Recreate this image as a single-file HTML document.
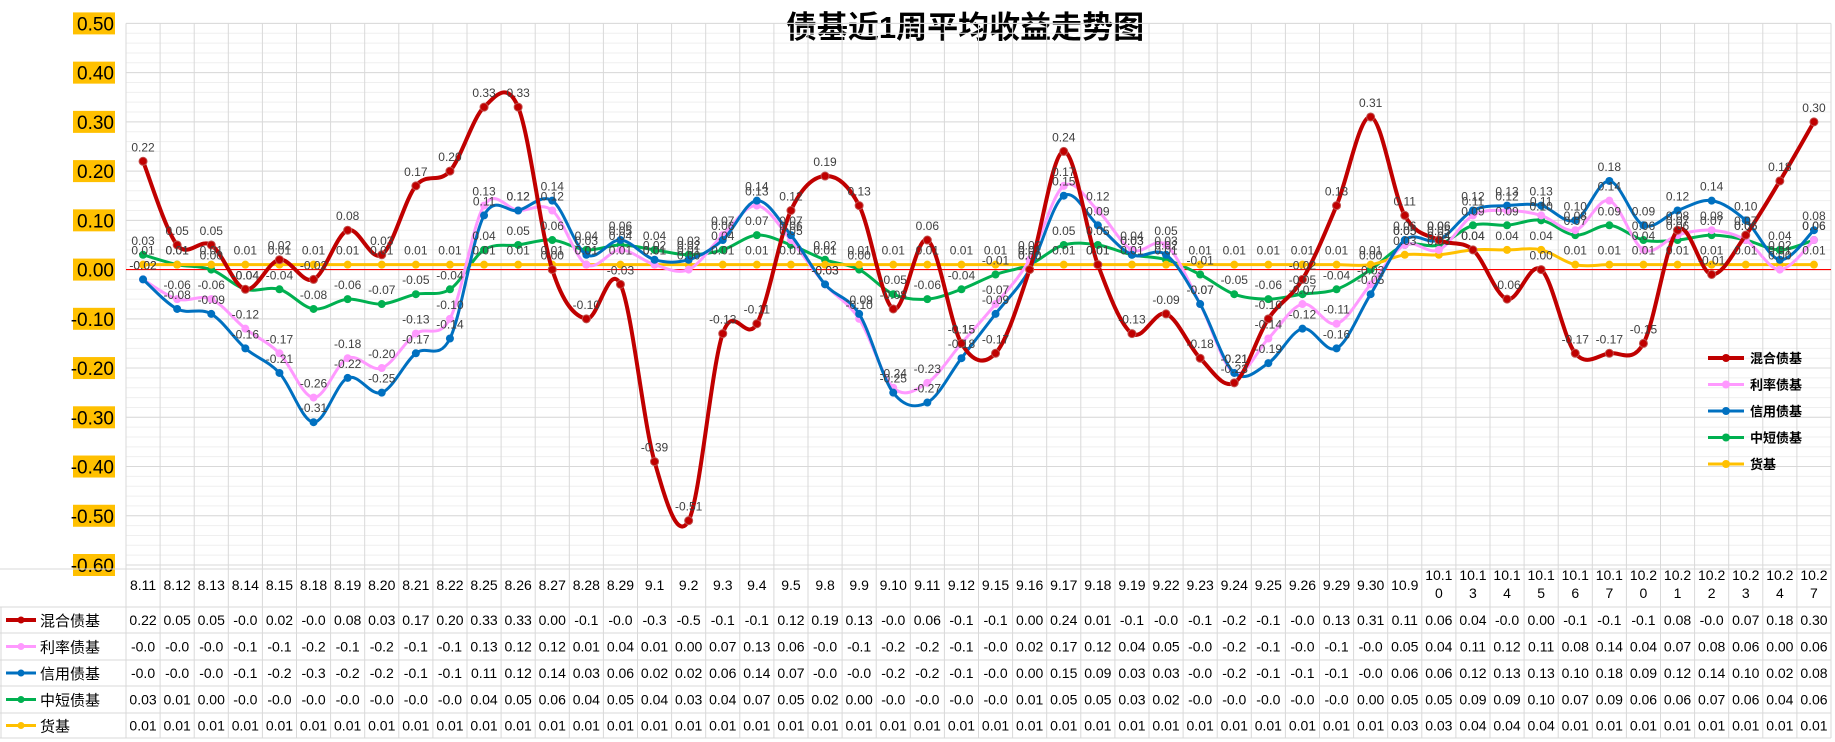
<!DOCTYPE html>
<html><head><meta charset="utf-8"><style>
html,body{margin:0;padding:0;background:#fff;}
svg{display:block;font-family:"Liberation Sans","Noto Sans CJK SC",sans-serif;}
</style></head><body>
<svg id="chart" width="1835" height="742" xmlns="http://www.w3.org/2000/svg">
<text x="965" y="38" text-anchor="middle" font-size="31" font-weight="bold" fill="#000">债基近1周平均收益走势图</text>
<g id="grid"></g><g id="yaxis"></g><g id="series"></g><g id="labels"></g><g id="legend"></g><g id="table"></g>
</svg>
<script>
const categories=["8.11","8.12","8.13","8.14","8.15","8.18","8.19","8.20","8.21","8.22","8.25","8.26","8.27","8.28","8.29","9.1","9.2","9.3","9.4","9.5","9.8","9.9","9.10","9.11","9.12","9.15","9.16","9.17","9.18","9.19","9.22","9.23","9.24","9.25","9.26","9.29","9.30","10.9","10.10","10.13","10.14","10.15","10.16","10.17","10.20","10.21","10.22","10.23","10.24","10.27"];
const seriesNames=["混合债基","利率债基","信用债基","中短债基","货基"];
const mixed=[0.22,0.05,0.05,-0.04,0.02,-0.02,0.08,0.03,0.17,0.20,0.33,0.33,0.00,-0.10,-0.03,-0.39,-0.51,-0.13,-0.11,0.12,0.19,0.13,-0.08,0.06,-0.15,-0.17,0.00,0.24,0.01,-0.13,-0.09,-0.18,-0.23,-0.10,-0.02,0.13,0.31,0.11,0.06,0.04,-0.06,0.00,-0.17,-0.17,-0.15,0.08,-0.01,0.07,0.18,0.30];
const rate=[-0.02,-0.06,-0.06,-0.12,-0.17,-0.26,-0.18,-0.20,-0.13,-0.10,0.13,0.12,0.12,0.01,0.04,0.01,0.00,0.07,0.13,0.06,-0.03,-0.10,-0.24,-0.23,-0.15,-0.07,0.02,0.17,0.12,0.04,0.05,-0.07,-0.21,-0.14,-0.07,-0.11,-0.03,0.05,0.04,0.11,0.12,0.11,0.08,0.14,0.04,0.07,0.08,0.06,0.00,0.06];
const credit=[-0.02,-0.08,-0.09,-0.16,-0.21,-0.31,-0.22,-0.25,-0.17,-0.14,0.11,0.12,0.14,0.03,0.06,0.02,0.02,0.06,0.14,0.07,-0.03,-0.09,-0.25,-0.27,-0.18,-0.09,0.00,0.15,0.09,0.03,0.03,-0.07,-0.21,-0.19,-0.12,-0.16,-0.05,0.06,0.06,0.12,0.13,0.13,0.10,0.18,0.09,0.12,0.14,0.10,0.02,0.08];
const shortTerm=[0.03,0.01,0.00,-0.04,-0.04,-0.08,-0.06,-0.07,-0.05,-0.04,0.04,0.05,0.06,0.04,0.05,0.04,0.03,0.04,0.07,0.05,0.02,0.00,-0.05,-0.06,-0.04,-0.01,0.01,0.05,0.05,0.03,0.02,-0.01,-0.05,-0.06,-0.05,-0.04,0.00,0.05,0.05,0.09,0.09,0.10,0.07,0.09,0.06,0.06,0.07,0.06,0.04,0.06];
const money=[0.01,0.01,0.01,0.01,0.01,0.01,0.01,0.01,0.01,0.01,0.01,0.01,0.01,0.01,0.01,0.01,0.01,0.01,0.01,0.01,0.01,0.01,0.01,0.01,0.01,0.01,0.01,0.01,0.01,0.01,0.01,0.01,0.01,0.01,0.01,0.01,0.01,0.03,0.03,0.04,0.04,0.04,0.01,0.01,0.01,0.01,0.01,0.01,0.01,0.01];
const yTicks=[0.5,0.4,0.3,0.2,0.1,0,-0.1,-0.2,-0.3,-0.4,-0.5,-0.6];

const NS="http://www.w3.org/2000/svg";
const allSeries=[mixed,rate,credit,shortTerm,money];
const colors=["#C00000","#FF99FF","#0070C0","#00B050","#FFC000"];
const widths=[4,3,3,3,3];
const slugs=["mixed-bond","rate-bond","credit-bond","short-term-bond","money-fund"];
const plotLeft=126, colW=34.1, yMax=0.5, yMin=-0.6, plotTop=23.4, plotBottom=565;
function xPos(i){return plotLeft+colW*(i+0.5);}
function yPos(v){return plotTop+(yMax-v)/(yMax-yMin)*(plotBottom-plotTop);}
function mk(tag,attrs,parent){const e=document.createElementNS(NS,tag);for(const k in attrs)e.setAttribute(k,attrs[k]);parent.appendChild(e);return e;}
const grid=document.getElementById('grid');
const rightEdge=plotLeft+colW*categories.length;
for(let v=-0.6;v<=0.5001;v+=0.02){mk('line',{x1:plotLeft,x2:rightEdge,y1:yPos(v),y2:yPos(v),stroke:'#efefef','stroke-width':1},grid);}
yTicks.forEach(t=>{mk('line',{x1:plotLeft,x2:rightEdge,y1:yPos(t),y2:yPos(t),stroke:'#d9d9d9','stroke-width':1},grid);});
for(let i=0;i<=categories.length;i++){mk('line',{x1:plotLeft+colW*i,x2:plotLeft+colW*i,y1:plotTop,y2:738,stroke:'#d9d9d9','stroke-width':1},grid);}
const zl=mk('line',{x1:plotLeft,x2:rightEdge,y1:yPos(0),y2:yPos(0),stroke:'#FF0000','stroke-width':1.2},grid);


const ya=document.getElementById('yaxis');
yTicks.forEach(t=>{
  const g=mk('g',{},ya);
  
  
  mk('rect',{x:73,y:yPos(t)-11,width:42,height:22,fill:'#FFC000'},g);
  const tx=mk('text',{x:114,y:yPos(t)+7,'text-anchor':'end','font-size':19,fill:'#000'},g);
  tx.textContent=t.toFixed(2);
});
function smooth(vals){
  const p=vals.map((v,i)=>[xPos(i),yPos(v)]);
  let d=`M${p[0][0]},${p[0][1]}`;
  for(let i=0;i<p.length-1;i++){
    const p0=p[i-1]||p[i],p1=p[i],p2=p[i+1],p3=p[i+2]||p[i+1];
    const c1=[p1[0]+(p2[0]-p0[0])/6,p1[1]+(p2[1]-p0[1])/6];
    const c2=[p2[0]-(p3[0]-p1[0])/6,p2[1]-(p3[1]-p1[1])/6];
    d+=` C${c1[0]},${c1[1]} ${c2[0]},${c2[1]} ${p2[0]},${p2[1]}`;
  }
  return d;
}
const sg=document.getElementById('series'), lg=document.getElementById('labels');
[3,4,1,2,0].forEach(s=>{
  const vals=allSeries[s];
  const g=mk('g',{},sg);
  
  
  mk('path',{d:smooth(vals),fill:'none',stroke:colors[s],'stroke-width':widths[s]},g);
  vals.forEach((v,i)=>{
    const c=mk('circle',{cx:xPos(i),cy:yPos(v),r:4,fill:colors[s]},g);
    if(s===0)c.setAttribute('stroke','#c0504d');
    
    
    const t=mk('text',{x:xPos(i),y:yPos(v)-10,'text-anchor':'middle','font-size':12,fill:'#404040'},lg);
    t.textContent=v.toFixed(2);
    
    
  });
});
const leg=document.getElementById('legend');
seriesNames.forEach((n,s)=>{
  const ly=358+s*26.5;
  const g=mk('g',{},leg);
  
  
  mk('line',{x1:1708,x2:1744,y1:ly,y2:ly,stroke:colors[s],'stroke-width':widths[s]},g);
  mk('circle',{cx:1726,cy:ly,r:4,fill:colors[s]},g);
  const t=mk('text',{x:1750,y:ly+5,'font-size':13,'font-weight':'bold',fill:'#000'},g);
  t.textContent=n;
});
const tb=document.getElementById('table');
const rowsY=[607,633,660,686,713,738];
mk('line',{x1:0,x2:rightEdge,y1:569,y2:569,stroke:'#d9d9d9'},tb);
rowsY.forEach(ry=>mk('line',{x1:0,x2:rightEdge,y1:ry,y2:ry,stroke:'#d9d9d9'},tb));
mk('line',{x1:1,x2:1,y1:607,y2:738,stroke:'#d9d9d9'},tb);
categories.forEach((c,i)=>{
  const t=mk('text',{x:xPos(i),'text-anchor':'middle','font-size':14,fill:'#000'},tb);
  
  
  if(c.length>4){
    t.setAttribute('y',580);
    const a=mk('tspan',{x:xPos(i),dy:0},t);a.textContent=c.slice(0,4);
    const b=mk('tspan',{x:xPos(i),dy:18},t);b.textContent=c.slice(4);
  } else {t.setAttribute('y',590);t.textContent=c;}
});
seriesNames.forEach((n,s)=>{
  const cy=(rowsY[s]+rowsY[s+1])/2;
  const g=mk('g',{},tb);
  
  
  mk('line',{x1:6,x2:36,y1:cy,y2:cy,stroke:colors[s],'stroke-width':widths[s]},g);
  mk('circle',{cx:21,cy:cy,r:3.5,fill:colors[s]},g);
  const lt=mk('text',{x:40,y:cy+6,'font-size':15,fill:'#000'},g);
  lt.textContent=n;
  allSeries[s].forEach((v,i)=>{
    const t=mk('text',{x:xPos(i),y:cy+5,'text-anchor':'middle','font-size':14,fill:'#000'},g);
    t.textContent=v.toFixed(2).slice(0,4);
  });
});
</script>
</body></html>
